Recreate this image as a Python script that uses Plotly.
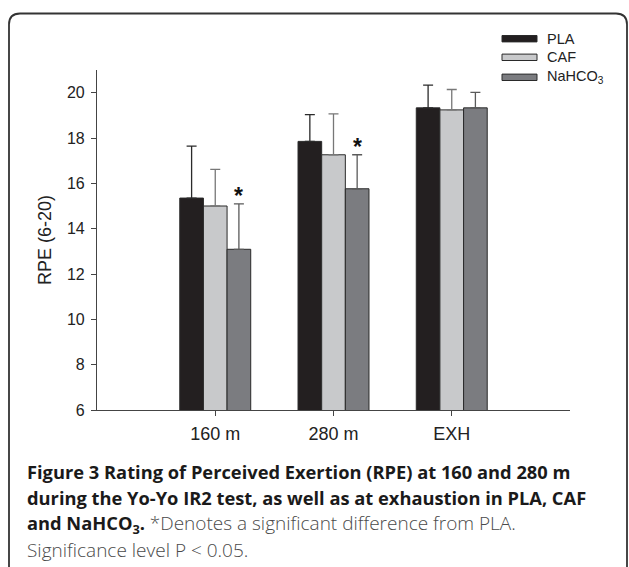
import plotly.graph_objects as go

categories = ["160 m", "280 m", "EXH"]
series_names = ["PLA", "CAF", "NaHCO<sub>3</sub>"]
pla = [15.35, 17.85, 19.33]
caf = [15.0, 17.26, 19.24]
nahco3 = [13.09, 15.76, 19.33]
pla_err = [2.29, 1.18, 1.0]
caf_err = [1.62, 1.80, 0.90]
nahco3_err = [2.0, 1.50, 0.68]
significant_nahco3 = [True, True, False]
y_ticks = [6, 8, 10, 12, 14, 16, 18, 20]

W, H = 629, 567
L, R, T, B = 97, 570, 70, 410  # plot area in pixels


def px(x):
    return (x - L) / (R - L)


def py(y):
    return (B - y) / (B - T)


fills = ["#231f20", "#c8c9cb", "#7b7c80"]
err_cols = ["#2b2b2b", "#777777", "#5a5a5a"]
values = [pla, caf, nahco3]
errs = [pla_err, caf_err, nahco3_err]

fig = go.Figure()
for name, v, e, fc, ec in zip(series_names, values, errs, fills, err_cols):
    fig.add_trace(go.Bar(
        x=categories, y=v, name=name, showlegend=False,
        marker=dict(color=fc, line=dict(color="#2a2a2a", width=1)),
        error_y=dict(type="data", symmetric=False, array=e,
                     arrayminus=[0] * len(e), color=ec, thickness=1.3, width=5),
    ))

annotations = []
# significance stars above NaHCO3 bars (group offset +0.2)
for i, (sig, v, e) in enumerate(zip(significant_nahco3, nahco3, nahco3_err)):
    if sig:
        annotations.append(dict(x=i + 0.2, y=v + e, xref="x", yref="y",
                                text="<b>*</b>", showarrow=False, yanchor="bottom",
                                yshift=-7,
                                font=dict(family="Liberation Sans", size=23, color="#111")))

shapes = []
# custom legend
leg_rows = [38.7, 57.3, 77.3]
for name, fc, yc in zip(series_names, fills, leg_rows):
    shapes.append(dict(type="rect", xref="paper", yref="paper",
                       x0=px(502), x1=px(537), y0=py(yc + 3.2), y1=py(yc - 3.2),
                       fillcolor=fc, line=dict(color="#2a2a2a", width=1)))
    annotations.append(dict(x=px(545), y=py(yc), xref="paper", yref="paper",
                            text=name, showarrow=False, xanchor="left", yanchor="middle",
                            font=dict(family="Liberation Sans", size=14.5, color="#222")))

# rounded frame
x0, x1, y0, y1, r = 9, 627, 13.5, 640, 11
path = (f"M {px(x0)},{py(y1)} L {px(x0)},{py(y0 + r)} "
        f"Q {px(x0)},{py(y0)} {px(x0 + r)},{py(y0)} "
        f"L {px(x1 - r)},{py(y0)} Q {px(x1)},{py(y0)} {px(x1)},{py(y0 + r)} "
        f"L {px(x1)},{py(y1)}")
shapes.append(dict(type="path", xref="paper", yref="paper", path=path,
                   line=dict(color="#333333", width=1.8)))

# caption
cap_font = "Open Sans"
light = "color:#4a4a4a;font-size:19px"
cap_lines = [
    (471.5, "<b>Figure 3</b> <b>Rating of Perceived Exertion (RPE) at 160 and 280 m</b>", 400),
    (497.5, "<b>during the Yo-Yo IR2 test, as well as at exhaustion in PLA, CAF</b>", 400),
    (523.5, f"<b>and NaHCO<sub>3</sub>.</b> <span style='{light}'>*Denotes a significant difference from PLA.</span>", 300),
    (550, f"<span style='{light}'>Significance level P &lt; 0.05.</span>", 300),
]
for yc, txt, wt in cap_lines:
    annotations.append(dict(x=px(25), y=py(yc), xref="paper", yref="paper",
                            text=txt, showarrow=False, xanchor="left", yanchor="middle",
                            font=dict(family=cap_font, size=18.3, color="#1a1a1a", weight=wt)))

fig.update_layout(
    width=W, height=H,
    margin=dict(l=L, r=W - R, t=T, b=H - B, pad=0),
    paper_bgcolor="white", plot_bgcolor="white",
    barmode="group", bargap=0.4, bargroupgap=0,
    font=dict(family="Liberation Sans", size=14, color="#222"),
    xaxis=dict(range=[-1, 3], showline=True, linecolor="#444", linewidth=1.2,
               ticks="outside", ticklen=5, tickcolor="#444", showgrid=False,
               zeroline=False, tickfont=dict(size=18), ticklabelstandoff=2),
    yaxis=dict(range=[6, 21], tickvals=y_ticks, showline=True, linecolor="#444",
               linewidth=1.2, ticks="outside", ticklen=5, tickcolor="#444",
               showgrid=False, zeroline=False, tickfont=dict(size=16),
               ticklabelstandoff=3,
               title=dict(text="RPE (6-20)", font=dict(size=18), standoff=10)),
    annotations=annotations, shapes=shapes,
)

fig.write_html("out.html", config={"displayModeBar": False},
               post_script="document.body.style.margin='0';")
